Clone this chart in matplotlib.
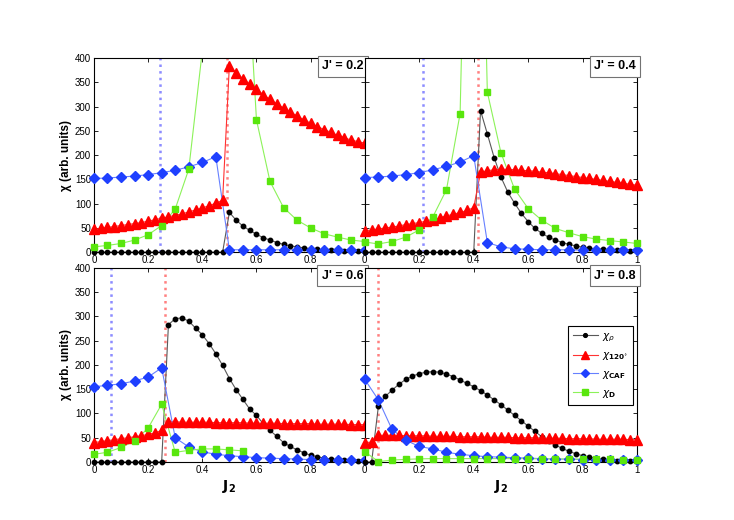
import numpy as np
import matplotlib
matplotlib.use('Agg')
import matplotlib.pyplot as plt

plt.rcParams['font.family'] = ['Liberation Sans', 'DejaVu Sans']

# J2 grids: fine (0.025) for chi_rho / chi_120, coarse (0.05) for chi_CAF / chi_D
j2_fine = np.linspace(0, 1, 41)
j2_coarse = np.linspace(0, 1, 21)

jprime_labels = ["J' = 0.2", "J' = 0.4", "J' = 0.6", "J' = 0.8"]

# J' = 0.2
rho_02 = [0] * 20 + [82, 66, 54, 45, 37, 30, 25, 20, 16, 13, 11, 9, 7, 6, 5, 4, 3, 2.5, 2, 1.5, 1]
t120_02 = [47, 49, 51, 53, 55, 57, 59, 61, 64, 67, 70, 73, 76, 79, 83, 87, 91, 96, 101, 107,
           385, 370, 358, 346, 336, 325, 315, 306, 297, 289, 281, 273, 266, 259, 253, 247,
           241, 236, 231, 228, 225]
caf_02 = [152, 153, 155, 157, 160, 164, 169, 176, 185, 197,
          5, 5, 5, 5, 5, 5, 4, 4, 4, 4, 4]
d_02 = [11, 14, 18, 25, 36, 55, 89, 171, 415, 1500, 1500, 760,
        273, 146, 92, 66, 50, 38, 31, 25, 22]

# J' = 0.4
rho_04 = [0] * 17 + [292, 244, 195, 155, 124, 101, 80, 63, 49, 39, 31, 25, 20, 16, 13, 10,
                     8, 7, 6, 5, 4, 3, 3, 2]
t120_04 = [44, 46, 48, 50, 52, 54, 57, 59, 61, 64, 67, 71, 75, 78, 82, 86, 92,
           165, 168, 170, 171, 171, 170, 169, 168, 167, 165, 164, 162, 160, 158, 156,
           154, 152, 150, 148, 146, 144, 142, 140, 138]
caf_04 = [154, 155, 157, 160, 164, 170, 177, 186, 199,
          20, 11, 7, 6, 5, 5, 5, 4, 4, 4, 4, 4]
d_04 = [21, 17, 22, 31, 46, 73, 129, 286, 1500, 330, 205, 130, 90, 66, 49, 40, 32, 27, 24, 21, 18]

# J' = 0.6
rho_06 = [0] * 11 + [283, 295, 297, 290, 276, 262, 244, 223, 199, 172, 149, 129, 109, 96, 79,
                     65, 53, 40, 32, 25, 19, 14, 11, 8, 6, 5, 4, 3, 3, 2]
t120_06 = [40, 42, 44, 46, 48, 50, 52, 54, 57, 60, 65,
           83, 83, 82, 82, 82, 82, 82, 81, 81, 81, 81, 81, 80, 80, 80, 80, 80, 79, 79, 79,
           79, 79, 78, 78, 78, 78, 78, 77, 77, 77]
caf_06 = [155, 158, 161, 167, 175, 194, 50, 31, 21, 16, 13, 11, 9, 8, 7, 6, 5, 5, 4, 4, 4]
d_06 = [16, 20, 30, 43, 70, 119, 20, 24, 27, 27, 25, 23]

# J' = 0.8
rho_08 = [0, 0, 115, 135, 148, 160, 170, 177, 182, 185, 186, 185, 181, 176, 169, 162, 155,
          147, 138, 128, 118, 107, 96, 85, 74, 63, 52, 43, 35, 28, 22, 17, 13, 10, 7.5, 5.5,
          4, 3, 2.5, 2, 2]
t120_08 = [40, 41, 55, 55, 55, 55, 54, 54, 54, 54, 53, 53, 53, 53, 52, 52, 52, 52, 51, 51,
           51, 51, 50, 50, 50, 50, 49, 49, 49, 49, 48, 48, 48, 48, 47, 47, 47, 47, 47, 46, 46]
caf_08 = [170, 128, 67, 45, 32, 27, 20, 16, 13, 11, 10, 9, 8, 7, 6, 6, 5, 5, 5, 4, 4]
d_08 = [21, 1, 4, 5.5, 6.5, 7, 7, 7, 7, 7, 7, 7, 7, 6.5, 6.5, 6, 6, 6, 5.5, 5, 5]

rho_all = [rho_02, rho_04, rho_06, rho_08]
t120_all = [t120_02, t120_04, t120_06, t120_08]
caf_all = [caf_02, caf_04, caf_06, caf_08]
d_all = [d_02, d_04, d_06, d_08]

# transition markers (dotted verticals)
caf_transition = [0.243, 0.212, 0.062, None]
t120_transition = [0.49, 0.414, 0.262, 0.048]

series_style = [
    # line colour, marker colour, marker, marker size, label
    ((0.35, 0.35, 0.35), 'k', 'o', 3.2, r'$\chi_\rho$'),
    ((1.0, 0.2, 0.2), (1.0, 0.0, 0.0), '^', 6.5, r'$\chi_{\mathbf{120}^{\circ}}$'),
    ((0.4, 0.5, 1.0), (0.12, 0.25, 1.0), 'D', 4.8, r'$\chi_{\mathbf{CAF}}$'),
    ((0.55, 0.95, 0.35), (0.35, 0.9, 0.05), 's', 4.8, r'$\chi_{\mathbf{D}}$'),
]

fig = plt.figure(figsize=(7.34, 5.20), dpi=100)
positions = [
    [0.128, 0.515, 0.369, 0.373],
    [0.497, 0.515, 0.371, 0.373],
    [0.128, 0.1115, 0.369, 0.3735],
    [0.497, 0.1115, 0.371, 0.3735],
]

for i in range(4):
    ax = fig.add_axes(positions[i])
    ax.set_xlim(0, 1)
    ax.set_ylim(0, 400)

    if caf_transition[i] is not None:
        ax.axvline(caf_transition[i], color=(0.55, 0.55, 1.0), ls=':', lw=1.8, zorder=1)
    ax.axvline(t120_transition[i], color=(1.0, 0.5, 0.5), ls=':', lw=1.8, zorder=1)

    data = [rho_all[i], t120_all[i], caf_all[i], d_all[i]]
    for k, vals in enumerate(data):
        vals = np.array(vals, dtype=float)
        xs = j2_fine if k < 2 else j2_coarse
        xs = xs[:len(vals)]
        lc, mc, mk, ms, lab = series_style[k]
        ax.plot(xs, vals, '-', color=lc, lw=0.8, zorder=2 + k * 0.1)
        shown = np.where(vals <= 400, vals, np.nan)
        ax.plot(xs, shown, ls='none', marker=mk, color=mc, ms=ms, mec=mc,
                clip_on=False, zorder=3 + k * 0.1)
        if i == 3:
            ax.plot([], [], '-', color=lc, lw=0.8, marker=mk, mfc=mc, mec=mc,
                    ms=ms * 0.85, label=lab)

    ax.text(0.995, 0.99, jprime_labels[i], transform=ax.transAxes, ha='right', va='top',
            fontsize=9, fontweight='bold',
            bbox=dict(boxstyle='square,pad=0.35', facecolor='white', edgecolor=(0.45, 0.45, 0.45),
                      lw=0.8), zorder=6)

    ax.set_yticks(np.arange(0, 401, 50))
    if i % 2 == 0:
        ax.set_xticks([0, 0.2, 0.4, 0.6, 0.8])
        ax.set_xticklabels(['0', '0.2', '0.4', '0.6', '0.8'])
        ax.set_ylabel('χ (arb. units)', fontsize=8.5, fontweight='bold', labelpad=2)
    else:
        ax.set_xticks([0, 0.2, 0.4, 0.6, 0.8, 1])
        ax.set_xticklabels(['0', '0.2', '0.4', '0.6', '0.8', '1'])
        ax.set_yticklabels([])
    if i >= 2:
        ax.set_xlabel(r'$\mathbf{J_2}$', fontsize=10, labelpad=2)

    ax.tick_params(direction='in', top=True, right=True, length=3, width=0.6,
                   labelsize=7, pad=2)
    for sp in ax.spines.values():
        sp.set_linewidth(0.8)

    if i == 3:
        leg = ax.legend(loc='upper right', bbox_to_anchor=(0.985, 0.70), fontsize=7.5,
                        frameon=True, fancybox=False, edgecolor='k', framealpha=1,
                        handlelength=2.4, handletextpad=0.4, borderpad=0.45,
                        labelspacing=0.65, borderaxespad=0)
        leg.get_frame().set_linewidth(0.8)
        leg.set_zorder(10)

fig.savefig('out.png', dpi=100)
